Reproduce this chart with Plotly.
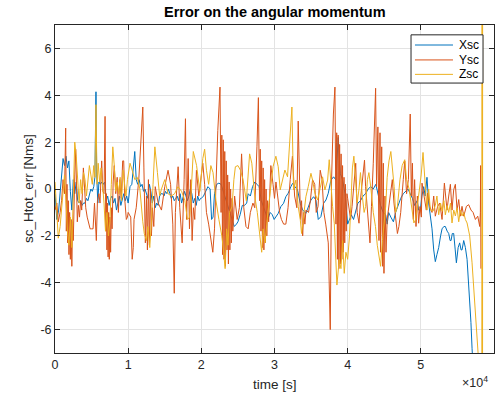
import plotly.graph_objects as go

# ---------------- data (time in s, error in Nms) ----------------
t_x = [0, 250, 500, 800, 1100, 1300, 1500, 1700, 1900, 2100, 2300, 2500, 2700, 2900, 3100, 3300, 3500, 3700, 3900,
       4100, 4300, 4500, 4700, 4900, 5100, 5300, 5450, 5600, 5700, 5850, 6000, 6200, 6400, 6600, 6800, 7000, 7200,
       7400, 7600, 7800, 8000, 8200, 8400, 8600, 8800, 9000, 9200, 9400, 9600, 9800,
       10000, 10250, 10500, 10700, 10900, 11100, 11300, 11500, 11700, 11900, 12100, 12300, 12500, 12700, 12900,
       13100, 13300, 13500, 13700, 13900, 14100, 14300, 14500, 14700, 14900, 15100, 15300, 15500, 15700, 15900,
       16100, 16300, 16500, 16700, 16900, 17100, 17300, 17500, 17700, 17900, 18100, 18300, 18500, 18700, 18900,
       19100, 19300, 19500, 19700, 19900,
       20000, 20300, 20600, 20900, 21200, 21400, 21600, 21800, 22100, 22400, 22700, 23000, 23300, 23600, 23900,
       24200, 24500, 24800, 25000, 25300, 25600, 25900, 26200, 26400, 26700, 27000, 27300, 27600, 27900, 28200,
       28500, 28800, 29100, 29400, 29700, 29950,
       30190, 30510, 30870, 31240, 31550, 31870, 32240, 32470, 32790, 33150, 33520, 33840, 34290, 34610, 34980,
       35340, 35660, 35980, 36340, 36710, 37030, 37350, 37710, 38080, 38400, 38710, 38990, 39310, 39630,
       40000, 40250, 40500, 40800, 41100, 41400, 41750, 42100, 42450, 42800, 43150, 43500, 43850, 44150, 44500,
       44850, 45200, 45400, 45600, 45900, 46250, 46550, 46900, 47250, 47600, 47900, 48250, 48550, 48850, 49150,
       49500, 49700,
       49930, 50150, 50390, 50600, 50840, 51070, 51300, 51530, 51760, 51980, 52200, 52440, 52700, 52900, 53150,
       53350, 53600, 53810, 54000, 54130, 54300, 54490, 54700, 54860, 55100, 55310, 55500, 55630, 55860, 56090,
       56320, 56500, 56680, 56850, 57000, 57200]
v_x = [-0.2, -1.3, -0.9, 0.3, 1.3, 1.0, 1.4, 0.9, 1.2, -0.1, -0.9, 0.4, -0.2, 0.3, -0.5, -0.6, -0.5, -0.7, -0.6,
       -0.6, -0.4, -0.5, -0.3, 0.0, -0.1, 0.1, 0.5, 4.15, 0.6, -0.6, 0.3, 0.2, 0.3, 0.2, 0.3, -0.5, -0.3,
       -0.7, -0.4, -0.3, -0.6, -0.4, -0.9, -0.6, -0.3, -0.7, -0.4, -0.2, -0.5, -0.3,
       -0.6, 0.1, 0.2, 0.9, 1.6, 0.4, 0.2, 0.4, 0.1, 0.2, -0.1, 0.0, -0.2, -0.4, 0.2,
       -0.1, -0.6, -0.3, -0.8, -0.6, -0.7, -0.3, -0.2, -0.2, -0.3, -0.1, -0.2, 0.0, -0.2, -0.4,
       -0.3, -0.5, -0.4, -0.3, -0.5, -0.2, -0.6, -0.4, -0.1, -0.3, -0.5, -0.3, 0.0, -0.2, -0.6,
       -0.4, -0.7, -0.3, -0.5, -0.4,
       -0.4, -0.3, -0.1, 0.1, 0.0, -1.3, -1.2, -0.2, 0.2, 0.25, 0.2, -0.1, -0.4, -0.8, -1.1,
       -1.4, -1.6, -1.5, -1.4, -1.1, -0.7, -0.7, -0.6, -0.2, -0.3, 0.1, 0.3, 0.2, 0.1, -0.5,
       -0.8, -1.0, -1.3, -1.0, -1.1, -1.3,
       -1.18, -1.04, -0.75, -0.61, -0.33, -0.18, 0.1, 0.24, 0.1, -0.04, -0.61, -0.89, -1.04, -0.75, -0.47,
       -0.33, -0.47, -1.3, -1.18, -0.61, -0.47, -0.18, 0.38, 0.52, 0.38, 2.2, 0.67, 0.38, -0.18,
       -1.5, -1.3, -1.1, -1.3, -0.9, -0.6, -0.5, -0.3, -0.2, 0.0, 0.1, 0.0, 0.2, -0.2, -0.7,
       -1.0, -1.1, -1.5, -1.0, -1.2, -1.4, -1.0, -0.7, -0.4, -0.2, -0.1, 0.0, -0.2, -0.4, -0.7,
       -0.5, -0.9,
       -0.9, -0.3, 0.1, -0.3, 0.5, -0.6, -1.2, -1.7, -2.6, -3.1, -2.8, -2.5, -2.0, -1.7, -1.6,
       -1.6, -1.8, -1.9, -2.2, -2.2, -1.9, -1.9, -2.6, -3.15, -2.5, -2.3, -2.6, -2.6, -2.2, -2.5,
       -3.0, -3.8, -4.6, -5.7, -6.8, -8.0]

t_y = [0, 250, 450, 700, 900, 1100, 1300, 1460, 1550, 1640, 1730, 1820, 1910, 2000, 2100, 2200, 2300, 2400, 2500,
       2600, 2700, 2830, 2950, 3050, 3200, 3350, 3500, 3650, 3880, 4050, 4200, 4400, 4600, 4800, 5000, 5200, 5400,
       5650, 5800, 6000, 6150, 6380, 6550, 6700, 6840, 6950, 7030, 7100, 7180, 7260, 7340, 7420, 7500, 7600, 7700,
       7800, 7950, 8100, 8300, 8500, 8660, 8850, 9050, 9250, 9390, 9550, 9750, 9900,
       10000, 10350, 10550, 10700, 10800, 11100, 11450, 11700, 12000, 12150, 12350, 12500, 12630, 12770, 12900,
       13040, 13180, 13310, 13500, 13700, 14100, 14550, 15000, 15450, 15800, 16100, 16300, 16450, 16600, 16830,
       17050, 17380, 17650, 17830, 17990, 18200, 18380, 18560, 18740, 18920, 19100, 19330, 19650, 19950,
       20200, 20450, 20700, 21000, 21350, 21570, 21800, 22000, 22250, 22550,
       22700, 22800, 22900, 23000, 23100, 23200, 23300, 23400, 23500, 23600, 23700, 23800, 23900, 24000, 24100,
       24200, 24300, 24550, 24900, 25200, 25500, 25800, 26100, 26400, 26700, 27050, 27300, 27600, 27800,
       27950, 28050, 28150, 28250, 28350, 28450, 28550, 28650, 28750, 28850, 28950, 29050, 29200, 29500, 29800,
       30000, 30200, 30450, 30700, 30950, 31250, 31550, 31850, 32150, 32450, 32750, 33050, 33240, 33400, 33550,
       33700, 33850, 34000, 34150, 34300, 34650, 34900, 35200, 35500, 35700, 35950, 36250, 36500, 36750, 37000,
       37350, 37620, 37800, 38050, 38260,
       38400, 38500, 38600, 38700, 38800, 38900, 39000, 39100, 39200, 39300, 39400, 39500, 39600, 39700, 39800,
       39900, 40000, 40200, 40400, 40600, 40850, 41100, 41300, 41550, 41800, 42000, 42300, 42450, 42700, 42900,
       43050, 43250, 43500, 43820, 43950, 44130, 44280, 44420, 44500, 44650, 44780, 44870, 44960, 45100, 45240,
       45400, 45650, 45870, 46100, 46330, 46550, 46800, 47000, 47250, 47600, 47800, 48050, 48300, 48550, 48700,
       48850, 48980, 49150, 49340, 49530, 49700, 49880, 50070,
       50160, 50480, 50750, 50940, 51210, 51530, 51760, 51980, 52300, 52580, 52900, 53220, 53400, 53580, 53810,
       54040, 54260, 54490, 54720, 54950, 55180, 55400, 55630, 55860, 56230, 56540, 56860, 57140, 57460, 57780,
       58050, 58140, 58170, 58210]
v_y = [-0.9, -0.6, -1.4, -1.0, -0.5, 0.4, -0.2, 2.6, -1.8, 0.2, -2.3, -0.5, -2.8, -1.0, -3.0, -1.3, -3.3, -1.4, -2.2,
       -0.4, 0.6, 1.7, -0.6, -1.4, -0.7, -1.2, -0.5, -0.9, 0.9, 0.1, -0.8, -1.2, -1.4, -1.7, -1.7, -1.7, -0.6,
       -2.2, -0.5, -0.2, -0.6, 1.2, -0.1, -0.2, 3.1, -1.8, -0.2, -2.6, -0.6, -2.9, -1.0, -3.0, -1.2, -2.7, -0.8,
       -1.7, 0.3, 1.0, -0.2, 0.5, -1.0, 0.4, -0.4, 1.2, 1.2, -0.5, -1.3, -1.2,
       -1.0, -1.2, -3.0, -2.5, -1.3, -0.8, 0.4, 1.9, 3.5, 0.9, -2.3, -0.3, -2.6, 0.4, -2.4,
       0.0, -2.0, -0.8, -1.6, 0.1, -0.6, -0.9, 0.1, 0.8, 0.2, -1.5, -4.45, -1.0, 0.0, 0.95,
       -0.8, -2.3, 0.4, 3.0, -1.3, 1.3, -1.7, 0.4, -2.2, -0.8, -1.3, 0.8, -0.3, 0.4,
       1.1, 0.2, -1.0, -1.5, -2.3, -2.7, -1.7, 0.4, 2.5, 4.35,
       -1.0, 2.3, -2.8, 2.1, -3.0, 1.6, -3.3, 1.2, -2.6, 0.6, -3.2, 0.3, -2.6, 0.0, -2.3,
       -0.4, -1.8, -0.3, -1.3, -0.8, 1.5, -0.8, -1.6, -1.7, -1.0, -0.6, -0.8, 1.8, 3.9,
       -0.5, 1.7, -1.8, 1.2, -2.5, 0.9, -2.6, 0.4, -2.3, 0.0, -2.0, -0.5, -1.4, 1.0, 0.2,
       -0.4, 0.3, -0.4, -1.0, -1.3, -1.5, -1.5, -0.8, 0.4, 1.4, -0.3, -0.8, 2.9, -0.1, -1.3,
       -0.5, -2.0, -1.0, -1.5, -0.9, -1.0, -0.5, 0.4, 0.2, -1.0, -0.75, 0.8, 0.4, -1.0, -1.5,
       -2.3, -6.0, 0.4, 3.2, 4.35,
       -1.5, 2.4, -3.0, 2.3, -3.4, 1.9, -3.2, 1.5, -3.0, 1.0, -2.7, 0.5, -2.3, 0.2, -1.8,
       -0.2, -0.4, -0.9, -1.3, -0.75, 0.4, 1.1, -1.0, -1.46, -0.3, 0.4, 1.23, 0.1, -1.0, -2.0,
       -2.3, -0.75, 1.1, 4.3, 0.1, 2.65, -2.2, 2.4, -2.7, 1.8, -3.3, 1.1, -3.6, -0.3, -2.7,
       -1.3, -0.75, -0.2, 0.4, -0.6, -1.3, -1.9, -1.6, -1.0, 0.4, 1.2, -0.2, 0.4, 3.2, -0.3,
       1.1, -1.3, 0.4, -1.6, -0.3, -1.46, -0.75, -1.2,
       0.25, -0.45, -0.9, -0.17, -0.74, -1.0, -0.3, -1.16, -0.74, -0.6, -1.3, 0.25, -0.3, -0.9, -0.3,
       0.2, -0.9, -0.03, 0.2, -0.9, -0.45, -1.16, -0.74, -1.16, -0.74, -0.67, -0.9, -1.0, -1.3, -1.16,
       -1.6, -1.0, 1.0, -3.4]

t_z = [0, 200, 450, 700, 900, 1100, 1300, 1500, 1700, 1900, 2100, 2300, 2500, 2700, 2900, 3100, 3300, 3500, 3700,
       3900, 4100, 4300, 4500, 4700, 4900, 5100, 5300, 5450, 5600, 5750, 5900, 6100, 6300, 6500, 6700, 6900, 7100,
       7300, 7500, 7700, 7900, 8100, 8300, 8500, 8700, 8900, 9100, 9300, 9500, 9700, 9900,
       10250, 10550, 10900, 11250, 11600, 12000, 12200, 12500, 12700, 12950, 13200, 13400, 13650, 14000, 14300,
       14550, 15000, 15450, 15900, 16350, 16800, 17300, 17750, 18100, 18400, 18600, 18900, 19350, 19800,
       20000, 20200, 20450, 20700, 21000, 21300, 21600, 22000, 22400, 22800, 23050, 23250, 23450, 23650, 23850,
       24200, 24450, 24650, 25000, 25350, 25700, 26150, 26600, 26900, 27300, 27650, 28000, 28250, 28450, 28700,
       29100, 29450, 29800,
       30190, 30510, 30780, 31100, 31420, 31780, 32150, 32380, 32600, 32920, 33240, 33520, 33700, 33970, 34290,
       34610, 34980, 35200, 35520, 35890, 36250, 36570, 36890, 37260, 37480, 37710, 37940, 38170, 38530, 38850,
       39080, 39310, 39530, 39760,
       40000, 40250, 40450, 40650, 40850, 41100, 41300, 41550, 41750, 42000, 42250, 42450, 42700, 42900, 43150,
       43500, 43800, 44050, 44300, 44500, 44750, 44950, 45200, 45400, 45650, 45900, 46100, 46350, 46550, 46800,
       47150, 47450, 47800, 48050, 48400, 48600, 48850, 49050, 49300, 49500, 49850, 50050,
       50300, 50620, 50840, 51070, 51300, 51660, 51980, 52200, 52440, 52700, 52900, 53150, 53350, 53600, 53810,
       54050, 54260, 54500, 54720, 54950, 55180, 55400, 55630, 55850, 56090, 56320, 56680, 57000, 57320, 57680,
       57910, 58150, 58330, 58380, 58420, 58460]
v_z = [0.3, -1.0, -2.1, -1.6, -0.8, -0.3, 0.6, -0.5, -1.8, -2.4, -1.2, -2.5, 0.4, 2.0, 1.4, 0.2, -0.6, 0.4, -0.2,
       0.7, 0.4, -0.3, 0.3, 1.0, 0.6, 0.2, 1.0, 0.5, 3.6, 0.2, 1.1, 0.3, 0.9, 0.2, -0.6, -1.8, -1.0,
       -2.0, -1.4, 0.2, 1.8, 1.0, -0.1, 0.3, -0.2, 0.5, -0.5, 0.8, 0.2, -0.3, 0.4,
       1.1, 0.8, 0.4, 0.5, 0.0, -1.4, -1.9, -2.2, -1.6, -2.5, -1.3, 0.2, 1.8, 0.7, -0.3,
       0.0, 0.4, -0.2, -0.3, -0.2, 0.1, -0.1, -0.5, -1.3, -1.2, -0.2, 1.6, 1.0, -0.1,
       0.6, 1.3, 1.7, 0.8, 0.2, 1.0, 0.7, -0.5, -1.3, -2.0, -2.7, -3.4, -1.7, -2.4, -1.0,
       -0.75, 0.4, 0.95, 1.0, 0.8, 0.4, -0.5, 1.5, 1.1, -0.3, -1.0, -2.0, -2.7, -1.7, -2.3,
       -1.0, 0.0, 0.95,
       1.4, 0.95, -0.04, 0.38, 0.81, 0.52, 2.4, 3.5, -0.04, 0.38, -0.75, -1.3, -1.9, -1.04, -0.33,
       0.1, 0.67, 0.38, -0.18, -0.47, 0.1, 0.52, -0.04, 0.38, 1.25, 0.1, -0.75, -1.46, -4.1, -3.0,
       -3.4, -2.2, -3.6, -2.7,
       -3.0, -2.0, -0.7, 0.9, 1.4, 0.4, -0.6, 0.0, 0.7, -0.3, -1.0, -0.75, 0.4, 0.7, 0.1,
       -1.0, -1.6, -2.4, -3.0, -3.3, -2.2, -1.6, -0.75, 0.5, 1.2, 1.6, 1.0, 0.1, -1.0, -0.75,
       0.4, 1.0, 1.25, 0.4, 0.0, -0.5, -1.0, -1.45, -1.3, -0.75, 0.0, 0.6,
       1.56, 0.25, -0.9, 0.0, -0.9, -0.95, -0.7, -0.3, -1.1, -0.6, -0.95, -0.5, -1.1, -0.7, -1.0,
       -0.6, -1.45, -0.9, -1.15, -0.8, -1.4, -0.9, -1.15, -1.0, -1.3, -1.45, -2.0, -3.15, -4.6, -6.4,
       -7.4, -30.0, -30.0, 30.0, -30.0, 30.0]

x_tick_vals = [0, 10000, 20000, 30000, 40000, 50000, 60000]
x_tick_text = ["0", "1", "2", "3", "4", "5", "6"]
y_tick_vals = [-6, -4, -2, 0, 2, 4, 6]
y_tick_text = ["-6", "-4", "-2", "0", "2", "4", "6"]

names = ["Xsc", "Ysc", "Zsc"]
colors = ["#0072BD", "#D95319", "#EDB120"]

FONT = "Liberation Sans, Arial, Helvetica, sans-serif"
AXC = "#262626"

fig = go.Figure()
for name, tt, vv, c in zip(names, [t_x, t_y, t_z], [v_x, v_y, v_z], colors):
    fig.add_trace(go.Scatter(x=tt, y=vv, mode="lines", name=name, showlegend=False,
                             line=dict(color=c, width=1)))

axis_common = dict(showline=True, linecolor=AXC, linewidth=1, mirror="ticks",
                   ticks="inside", ticklen=5, tickcolor=AXC, tickwidth=1,
                   showgrid=True, gridcolor="#e3e3e3", gridwidth=1, zeroline=False,
                   tickfont=dict(family=FONT, size=12.5, color=AXC))

# legend box (drawn manually to match the compact MATLAB legend)
lg_x0, lg_x1, lg_y0, lg_y1 = 0.811, 0.975, 0.823, 0.970
lg_rows = [0.939, 0.8935, 0.8495]
shapes = [dict(type="rect", xref="paper", yref="paper", x0=lg_x0, x1=lg_x1, y0=lg_y0, y1=lg_y1,
               fillcolor="white", line=dict(color=AXC, width=1), layer="above")]
annos = []
for name, c, yy in zip(names, colors, lg_rows):
    shapes.append(dict(type="line", xref="paper", yref="paper", x0=0.820, x1=0.9066, y0=yy, y1=yy,
                       line=dict(color=c, width=1), layer="above"))
    annos.append(dict(text=name, xref="paper", yref="paper", x=0.916, y=yy, xanchor="left",
                      yanchor="middle", showarrow=False, font=dict(family=FONT, size=12, color="black")))

annos += [
    dict(text="<b>Error on the angular momentum</b>", xref="paper", yref="paper",
         x=0.5, y=1, yshift=13, xanchor="center", yanchor="middle", showarrow=False,
         font=dict(family=FONT, size=14.5, color="black")),
    dict(text="time [s]", xref="paper", yref="paper", x=0.5, y=0, yshift=-31,
         xanchor="center", yanchor="middle", showarrow=False,
         font=dict(family=FONT, size=13.5, color=AXC)),
    dict(text="sc_Htot_err [Nms]", xref="paper", yref="paper", x=0, y=0.5, xshift=-27,
         xanchor="center", yanchor="middle", textangle=-90, showarrow=False,
         font=dict(family=FONT, size=13.5, color=AXC)),
    dict(text="×10<sup>4</sup>", xref="paper", yref="paper", x=1, y=0, xshift=-4, yshift=-29,
         xanchor="right", yanchor="middle", showarrow=False,
         font=dict(family=FONT, size=12.5, color=AXC)),
]

fig.update_layout(
    width=495, height=395,
    margin=dict(l=55, r=1, t=25, b=42),
    paper_bgcolor="white", plot_bgcolor="white",
    font=dict(family=FONT, color=AXC),
    showlegend=False,
    xaxis=dict(range=[0, 60000], tickvals=x_tick_vals, ticktext=x_tick_text, **axis_common),
    yaxis=dict(range=[-7, 7], tickvals=y_tick_vals, ticktext=y_tick_text, **axis_common),
    shapes=shapes,
    annotations=annos,
)

fig.write_html("out.html")
